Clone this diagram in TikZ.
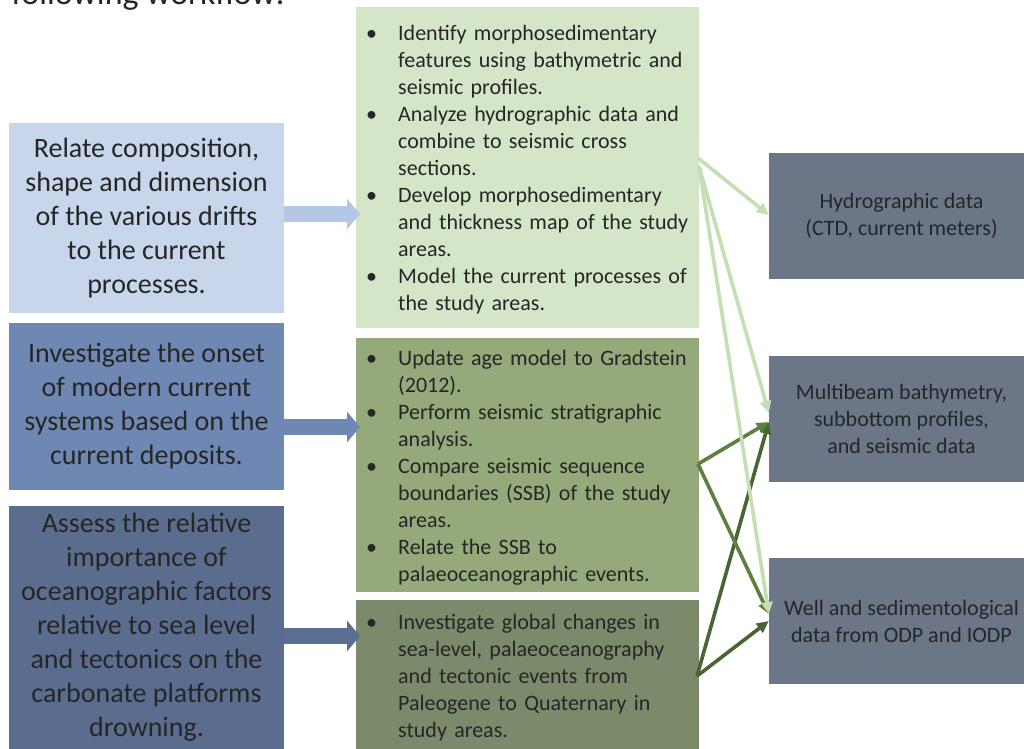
\documentclass[tikz,border=0pt]{standalone}
\usepackage{fontspec}
\setmainfont{Carlito}
\usetikzlibrary{arrows.meta}

\definecolor{lblue}{HTML}{C7D6EB}
\definecolor{mblue}{HTML}{6E87B3}
\definecolor{dblue}{HTML}{5B6D8E}
\definecolor{lgreen}{HTML}{D5E5C8}
\definecolor{mgreen}{HTML}{95A97A}
\definecolor{dgreen}{HTML}{7A8A6B}
\definecolor{slate}{HTML}{6B7687}
\definecolor{arrA}{HTML}{C5DFB5}
\definecolor{arrB}{HTML}{5E803E}
\definecolor{arrC}{HTML}{4A6535}
\definecolor{arrone}{HTML}{B4C7E7}
\definecolor{arrtwo}{HTML}{6E87B3}
\definecolor{arrthree}{HTML}{5A6E91}
\definecolor{txt}{HTML}{262626}

\newcommand{\bigtxt}{\fontsize{28}{34}\selectfont}
\newcommand{\smalltxt}{\fontsize{22}{27}\selectfont}
\newcommand{\itm}{\leavevmode\llap{\makebox[32pt][l]{\textbullet}}}

\tikzset{
  goalbox/.style={rectangle, inner sep=0, minimum width=275, align=center,
                  text=txt, font=\bigtxt},
  taskbox/.style={rectangle, inner sep=0, minimum width=343},
  databox/.style={rectangle, inner sep=0, minimum width=265, fill=slate,
                  align=center, text=txt, font=\smalltxt},
  tasklist/.style={anchor=north west, inner sep=0, text width=300pt,
                   align=left, text=txt, font=\smalltxt},
  blockarrow/.style={line width=16pt, -{Triangle[width=30pt,length=13pt]}},
  linkarrow/.style={line width=3.6pt, -{Triangle[width=11pt,length=12pt]}},
}

\begin{document}
\begin{tikzpicture}[x=1pt, y=-1pt]
\useasboundingbox (0,0) rectangle (1024,748);
\clip (0,0) rectangle (1024,748);
\fill[white] (0,0) rectangle (1024,748);

% heading line running above the chart
\node[anchor=base east, inner sep=0, font=\fontsize{34}{40}\selectfont, text=txt]
  (head) at (285,4) {following workflow:};

% objectives
\node[goalbox, fill=lblue, minimum height=190] (g1) at (146.5,218)
  {Relate composition,\\shape and dimension\\of the various drifts\\to the current\\processes.};
\node[goalbox, fill=mblue, minimum height=167] (g2) at (146.5,406.5)
  {Investigate the onset\\of modern current\\systems based on the\\current deposits.};
\node[goalbox, fill=dblue, minimum height=243] (g3) at (146.5,627.5)
  {Assess the relative\\importance of\\oceanographic factors\\relative to sea level\\and tectonics on the\\carbonate platforms\\drowning.};

% tasks
\node[taskbox, fill=lgreen, minimum height=321] (A) at (527,167.5) {};
\node[taskbox, fill=mgreen, minimum height=254] (B) at (527,465) {};
\node[taskbox, fill=dgreen, minimum height=150] (C) at (527,675) {};

\node[tasklist] (Atext) at (398,21.1) {\strut
  \itm Identify morphosedimentary\\features using bathymetric and\\seismic profiles.\\
  \itm Analyze hydrographic data and\\combine to seismic cross\\sections.\\
  \itm Develop morphosedimentary\\and thickness map of the study\\areas.\\
  \itm Model the current processes of\\the study areas.};
\node[tasklist] (Btext) at (398,346.1) {\strut
  \itm Update age model to Gradstein\\(2012).\\
  \itm Perform seismic stratigraphic\\analysis.\\
  \itm Compare seismic sequence\\boundaries (SSB) of the study\\areas.\\
  \itm Relate the SSB to\\palaeoceanographic events.};
\node[tasklist] (Ctext) at (398,610.1) {\strut
  \itm Investigate global changes in\\sea-level, palaeoceanography\\and tectonic events from\\Paleogene to Quaternary in\\study areas.};

% data sources
\node[databox, minimum height=126] (R1) at (901.5,216)
  {Hydrographic data\\(CTD, current meters)};
\node[databox, minimum height=126] (R2) at (901.5,419)
  {Multibeam bathymetry,\\subbottom profiles,\\and seismic data};
\node[databox, minimum height=126] (R3) at (901.5,621)
  {Well and sedimentological\\data from ODP and IODP};

% objective -> task arrows
\coordinate (t1) at (360,214);
\coordinate (t2) at (360,427);
\coordinate (t3) at (360,636);
\draw[blockarrow, arrone] (g1.east |- t1) -- (t1);
\draw[blockarrow, arrtwo] (g2.east |- t2) -- (t2);
\draw[blockarrow, arrthree] (g3.east |- t3) -- (t3);

% task -> data arrows
\coordinate (sA1) at (698,158);
\coordinate (sA2) at (699,166);
\coordinate (sB) at (698,464);
\coordinate (sC) at (697,676);
\coordinate (r1a) at (768,215);
\coordinate (r2a) at (769,413);
\coordinate (r2b) at (770,422);
\coordinate (r3a) at (768,614);
\coordinate (r3c) at (768,621);

\draw[linkarrow, arrC] (sC) -- (R2.west |- r2b);
\draw[linkarrow, arrC] (sC) -- (R3.west |- r3c);
\draw[linkarrow, arrB] (sB) -- (R2.west |- r2b);
\draw[linkarrow, arrB] (sB) -- (R3.west |- r3a);
\draw[linkarrow, arrA] (sA1) -- (R1.west |- r1a);
\draw[linkarrow, arrA] (sA2) -- (R2.west |- r2a);
\draw[linkarrow, arrA] (sA2) -- (R3.west |- r3a);
\end{tikzpicture}
\end{document}
